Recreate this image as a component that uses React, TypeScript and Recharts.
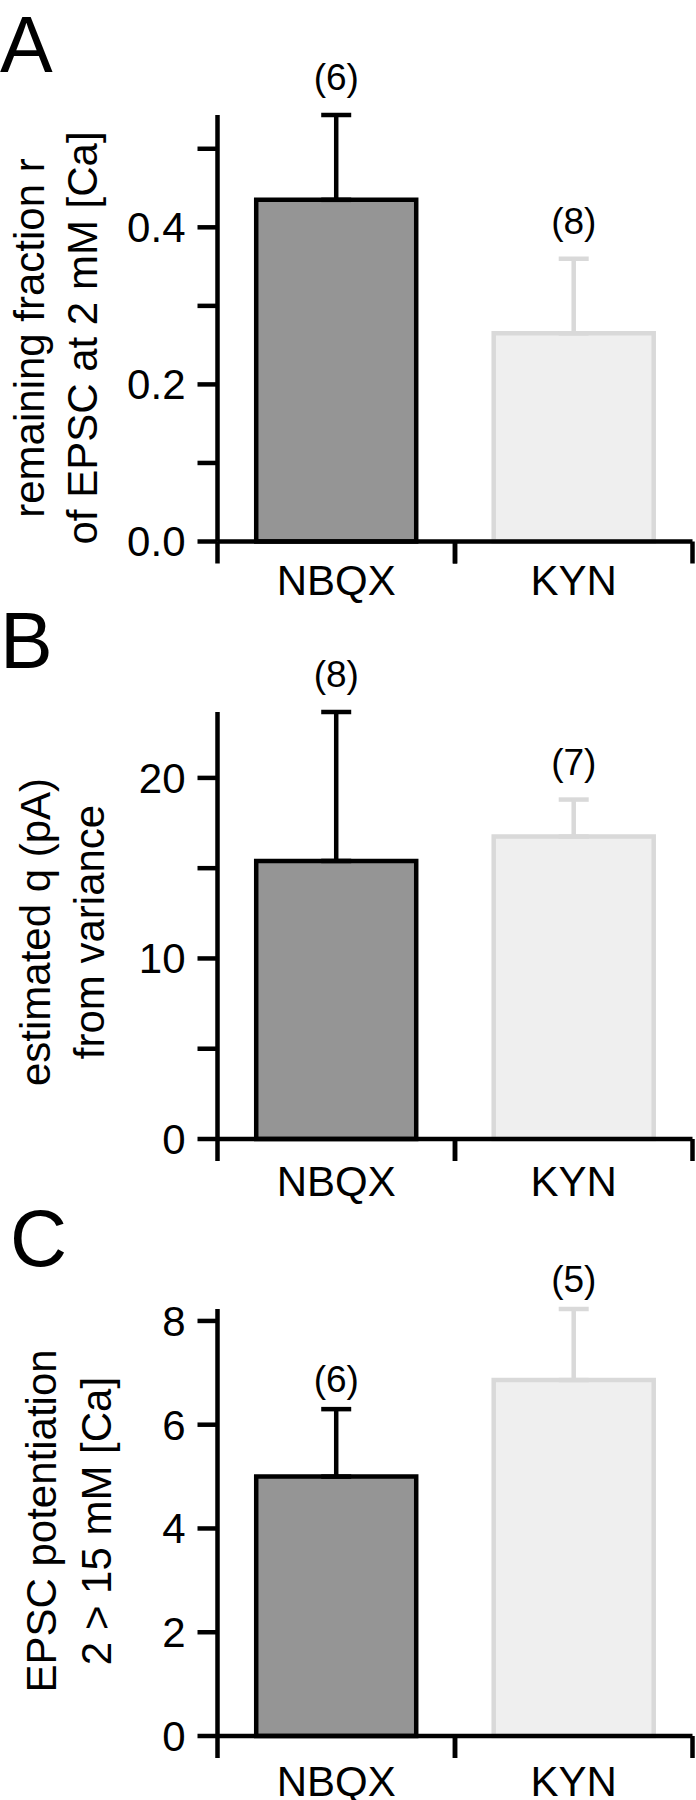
import { Bar, BarChart, Cell, ErrorBar, ReferenceDot, XAxis, YAxis } from "recharts";

const groups = ["NBQX", "KYN"];
const barFill = ["#959595", "#efefef"];
const barStroke = ["#000000", "#d9d9d9"];

// A: remaining fraction r of EPSC at 2 mM [Ca]
const fracMean = [0.435, 0.265];
const fracSem = [0.108, 0.095];
const fracN = [6, 8];
const fracTicks = [0, 0.1, 0.2, 0.3, 0.4, 0.5];
const fracTickLabels = ["0.0", "", "0.2", "", "0.4", ""];

// B: estimated q (pA) from variance
const qMean = [15.4, 16.75];
const qSem = [8.25, 2.05];
const qN = [8, 7];
const qTicks = [0, 5, 10, 15, 20];
const qTickLabels = ["0", "", "10", "", "20"];

// C: EPSC potentiation 2 > 15 mM [Ca]
const potMean = [5.0, 6.86];
const potSem = [1.3, 1.37];
const potN = [6, 5];
const potTicks = [0, 2, 4, 6, 8];
const potTickLabels = ["0", "2", "4", "6", "8"];

const W = 696;
const H = 600; // vertical slot of one panel
const CHART_H = 624; // a bit taller so descenders of x labels are not clipped
const Y_AXIS_W = 217.5;
const RIGHT = 3.5;
const PLOT_W = W - Y_AXIS_W - RIGHT;
const LINE = 4.5;
const FONT = '"Liberation Sans", Arial, Helvetica, sans-serif';

type PanelProps = {
  offsetY: number;
  letter: string;
  letterX: number;
  letterY: number;
  title: [string, string];
  titleX: [number, number];
  titleY: number;
  mean: number[];
  sem: number[];
  n: number[];
  ticks: number[];
  tickLabels: string[];
  top: number;
  axisY: number;
  labelGap: number;
  countOffset: number;
};

function GroupTick(props: any) {
  const { x, y, payload, gap } = props;
  const half = PLOT_W / groups.length / 2;
  const axisY = y - gap;
  return (
    <g>
      <line x1={x - half} x2={x - half} y1={axisY} y2={axisY + 22} stroke="#000" strokeWidth={LINE} />
      <line x1={x + half} x2={x + half} y1={axisY} y2={axisY + 22} stroke="#000" strokeWidth={LINE} />
      <text x={x} y={y} dy="0.71em" textAnchor="middle" fontSize={42} fontFamily={FONT} fill="#000">
        {payload.value}
      </text>
    </g>
  );
}

function Panel(p: PanelProps) {
  const rows = groups.map((g, i) => {
    const row: Record<string, any> = { group: g, mean: p.mean[i] };
    row[`err${i}`] = [0, p.sem[i]];
    return row;
  });
  const tops = p.mean.map((m, i) => m + p.sem[i]);
  const yMax = Math.max(...tops);

  return (
    <div style={{ position: "absolute", left: 0, top: p.offsetY, width: W, height: CHART_H }}>
      <BarChart
        width={W}
        height={CHART_H}
        data={rows}
        margin={{ top: p.top, right: RIGHT, bottom: 0, left: 0 }}
        barCategoryGap="16.3%"
      >
        <YAxis
          width={Y_AXIS_W}
          type="number"
          domain={[0, yMax]}
          ticks={p.ticks}
          interval={0}
          tickSize={20}
          tickMargin={12}
          tickFormatter={(_v: number, i: number) => p.tickLabels[i]}
          axisLine={{ stroke: "#000", strokeWidth: LINE }}
          tickLine={{ stroke: "#000", strokeWidth: LINE }}
          tick={{ fontSize: 42, fill: "#000", fontFamily: FONT }}
        />
        <Bar dataKey="mean" strokeWidth={LINE} isAnimationActive={false}>
          {groups.map((g, i) => (
            <Cell key={g} fill={barFill[i]} stroke={barStroke[i]} />
          ))}
          {groups.map((g, i) => (
            <ErrorBar
              key={g}
              dataKey={`err${i}`}
              direction="y"
              width={15}
              stroke={barStroke[i]}
              strokeWidth={LINE}
              isAnimationActive={false}
            />
          ))}
        </Bar>
        <XAxis
          dataKey="group"
          type="category"
          height={CHART_H - p.axisY}
          interval={0}
          tickSize={0}
          tickMargin={p.labelGap}
          tickLine={false}
          axisLine={{ stroke: "#000", strokeWidth: LINE }}
          tick={(tp: any) => <GroupTick {...tp} gap={p.labelGap} />}
        />
        {groups.map((g, i) => (
          <ReferenceDot
            key={g}
            x={g}
            y={tops[i]}
            r={0}
            fill="none"
            stroke="none"
            ifOverflow="visible"
            label={{
              value: `(${p.n[i]})`,
              position: "top",
              offset: p.countOffset,
              fontSize: 37,
              fill: "#000",
              fontFamily: FONT,
            }}
          />
        ))}
      </BarChart>
      <svg
        width={W}
        height={H}
        style={{ position: "absolute", left: 0, top: 0, pointerEvents: "none", overflow: "visible" }}
        fontFamily={FONT}
        fill="#000"
      >
        <text x={p.letterX} y={p.letterY} fontSize={79}>
          {p.letter}
        </text>
        {p.title.map((t, i) => (
          <text
            key={t}
            transform={`translate(${p.titleX[i]},${p.titleY}) rotate(-90)`}
            textAnchor="middle"
            fontSize={42}
          >
            {t}
          </text>
        ))}
      </svg>
    </div>
  );
}

export default function App() {
  return (
    <div style={{ position: "absolute", left: 0, top: 0, width: W, height: 1800, background: "#fff", overflow: "hidden" }}>
      <Panel
        offsetY={0}
        letter="A"
        letterX={0}
        letterY={71.5}
        title={["remaining fraction r", "of EPSC at 2 mM [Ca]"]}
        titleX={[44, 97]}
        titleY={338}
        mean={fracMean}
        sem={fracSem}
        n={fracN}
        ticks={fracTicks}
        tickLabels={fracTickLabels}
        top={115}
        axisY={541.5}
        labelGap={23.5}
        countOffset={25}
      />
      <Panel
        offsetY={600}
        letter="B"
        letterX={0}
        letterY={68}
        title={["estimated q (pA)", "from variance"]}
        titleX={[50, 104]}
        titleY={332}
        mean={qMean}
        sem={qSem}
        n={qN}
        ticks={qTicks}
        tickLabels={qTickLabels}
        top={112}
        axisY={539}
        labelGap={27}
        countOffset={25}
      />
      <Panel
        offsetY={1200}
        letter="C"
        letterX={10}
        letterY={66}
        title={["EPSC potentiation", "2 > 15 mM [Ca]"]}
        titleX={[55.5, 111]}
        titleY={321}
        mean={potMean}
        sem={potSem}
        n={potN}
        ticks={potTicks}
        tickLabels={potTickLabels}
        top={109}
        axisY={536}
        labelGap={30}
        countOffset={17}
      />
    </div>
  );
}
